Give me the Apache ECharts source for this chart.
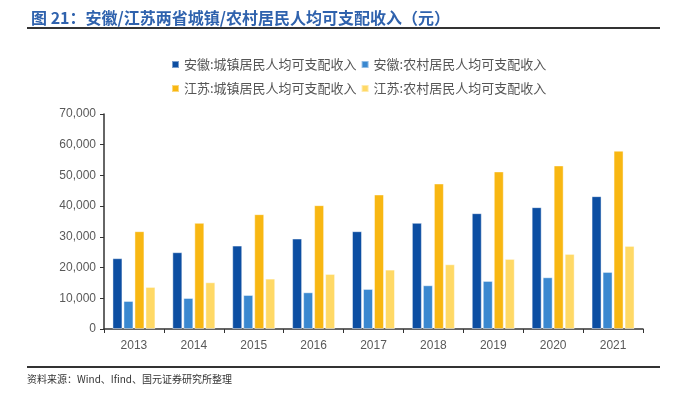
<!DOCTYPE html>
<html><head><meta charset="utf-8">
<script src="https://cdn.jsdelivr.net/npm/echarts@6/dist/echarts.min.js"></script>
<style>html,body{margin:0;padding:0;background:#fff}#c{width:683px;height:393px}</style>
</head><body><div id="c"></div>
<script>
var categories = ['2013','2014','2015','2016','2017','2018','2019','2020','2021'];
var seriesNames = ['安徽:城镇居民人均可支配收入','安徽:农村居民人均可支配收入','江苏:城镇居民人均可支配收入','江苏:农村居民人均可支配收入'];
var anhuiUrban = [23050,25000,27170,29450,31840,34560,37710,39670,43250];
var anhuiRural = [9130,10100,11080,11950,13040,14240,15650,16840,18580];
var jiangsuUrban = [31850,34560,37390,40320,43800,47380,51300,53250,58040];
var jiangsuRural = [13700,15220,16410,17930,19340,21080,22820,24450,27060];
var yTicks = [0,10000,20000,30000,40000,50000,60000,70000];
var colors = ['#0C4EA2','#3A88D0','#F8B712','#FFD966'];
var dataList = [anhuiUrban, anhuiRural, jiangsuUrban, jiangsuRural];

var chart = echarts.init(document.getElementById('c'));
var legendText = {color:'#555', fontSize:13, fontFamily:'"Noto Sans CJK SC", sans-serif'};
chart.setOption({
  animation:false,
  color: colors,
  title:{text:'图 21：安徽/江苏两省城镇/农村居民人均可支配收入（元）', left:26, top:5,
    textStyle:{color:'#2F62AD', fontSize:16, fontWeight:'bold', fontFamily:'"Noto Sans CJK SC", sans-serif'}},
  graphic:[
    {type:'rect', shape:{x:27,y:27,width:633,height:2}, style:{fill:'#333'}},
    {type:'rect', shape:{x:27,y:366,width:633,height:2}, style:{fill:'#333'}},
    {type:'text', left:27, top:374, style:{text:'资料来源：Wind、Ifind、国元证券研究所整理', fill:'#333', fontSize:10, fontFamily:'"Noto Sans CJK SC", sans-serif'}}
  ],
  legend:[
    {data:[seriesNames[0],seriesNames[1]], left:166, top:53, itemWidth:7, itemHeight:7, itemGap:4, icon:'rect', textStyle:legendText},
    {data:[seriesNames[2],seriesNames[3]], left:166, top:77, itemWidth:7, itemHeight:7, itemGap:4, icon:'rect', textStyle:legendText}
  ],
  grid:{left:104, right:40, top:114, bottom:64},
  xAxis:{type:'category', data:categories,
    axisLine:{lineStyle:{color:'#333', width:1.5}},
    axisTick:{show:true, alignWithLabel:false, length:4, lineStyle:{color:'#333'}},
    axisLabel:{color:'#595959', fontSize:12, margin:11, fontFamily:'Arial, "Liberation Sans", sans-serif'}},
  yAxis:{type:'value', min:0, max:70000, interval:10000,
    axisLine:{show:true, lineStyle:{color:'#333', width:1.5}},
    axisTick:{show:true, length:4, lineStyle:{color:'#333'}},
    splitLine:{show:false},
    axisLabel:{color:'#595959', fontSize:12, margin:8, fontFamily:'Arial, "Liberation Sans", sans-serif',
      formatter:function(v){return v.toLocaleString('en-US');}}},
  series: dataList.map(function(d,i){
    return {name:seriesNames[i], type:'bar', data:d, barWidth:10, barGap:'10%',
      itemStyle:{color:colors[i], borderColor:'rgba(255,255,255,0.45)', borderWidth:1}};
  })
});
</script></body></html>
